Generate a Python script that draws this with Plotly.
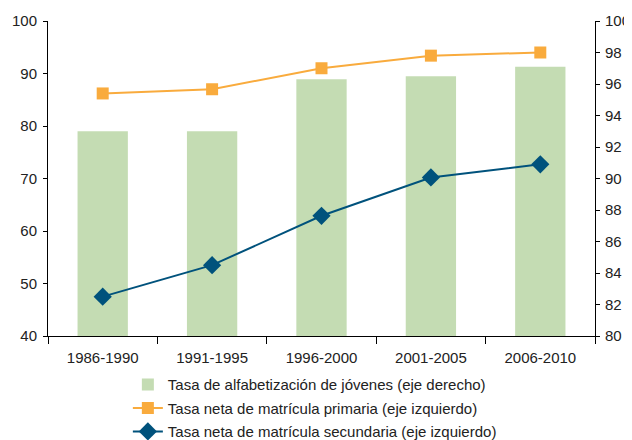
import plotly.graph_objects as go

categories = ["1986-1990", "1991-1995", "1996-2000", "2001-2005", "2006-2010"]
alfabetizacion = [93.0, 93.0, 96.3, 96.5, 97.1]
primaria = [86.2, 87.0, 91.0, 93.4, 94.0]
secundaria = [47.5, 53.5, 62.9, 70.2, 72.7]

left_ticks = [40, 50, 60, 70, 80, 90, 100]
right_ticks = [80, 82, 84, 86, 88, 90, 92, 94, 96, 98, 100]

GREEN = "#c4dcb3"
ORANGE = "#f9ab3d"
BLUE = "#00527c"
FONT = "Liberation Sans, Arial, sans-serif"

fig = go.Figure()
# bars on the base (right-side) axis so the lines on the overlaying axis draw on top
fig.add_trace(go.Bar(
    x=categories, y=alfabetizacion, yaxis="y",
    name="Tasa de alfabetización de jóvenes (eje derecho)",
    marker=dict(color=GREEN, line=dict(width=0)),
    legendgroup="a",
))
fig.add_trace(go.Scatter(
    x=categories, y=primaria, mode="lines+markers", yaxis="y2",
    name="Tasa neta de matrícula primaria (eje izquierdo)",
    line=dict(color=ORANGE, width=2),
    marker=dict(symbol="square", size=12, color=ORANGE),
    legendgroup="b",
))
fig.add_trace(go.Scatter(
    x=categories, y=secundaria, mode="lines+markers", yaxis="y2",
    name="Tasa neta de matrícula secundaria (eje izquierdo)",
    line=dict(color=BLUE, width=2),
    marker=dict(symbol="diamond", size=14, color=BLUE),
    legendgroup="c",
))

fig.update_layout(
    width=632, height=440,
    margin=dict(l=40, r=45, t=13, b=112, autoexpand=False),
    paper_bgcolor="white", plot_bgcolor="white",
    font=dict(family=FONT, size=15, color="#222222"),
    bargap=0.54,
    showlegend=True,
    legend=dict(
        x=0.146, y=-0.102, xanchor="left", yanchor="top",
        orientation="v", traceorder="grouped", tracegroupgap=1,
        font=dict(family=FONT, size=15, color="#222222"),
        bgcolor="rgba(0,0,0,0)",
    ),
    xaxis=dict(
        type="category", showgrid=False, showline=True, linecolor="#000000",
        linewidth=1, ticks="outside", tickson="boundaries", ticklen=7,
        tickcolor="#000000", tickfont=dict(size=15), ticklabelstandoff=8,
    ),
    yaxis=dict(
        range=[80, 100], tickvals=right_ticks, side="right",
        showgrid=False, zeroline=False, showline=True, linecolor="#000000",
        linewidth=1, ticks="outside", ticklen=4, tickcolor="#000000",
        tickfont=dict(size=15), ticklabelstandoff=2,
    ),
    yaxis2=dict(
        range=[40, 100], tickvals=left_ticks, overlaying="y", side="left",
        showgrid=False, zeroline=False, showline=True, linecolor="#000000",
        linewidth=1, ticks="outside", ticklen=4, tickcolor="#000000",
        tickfont=dict(size=15), ticklabelstandoff=3,
    ),
)

fig.write_html("out.html")
